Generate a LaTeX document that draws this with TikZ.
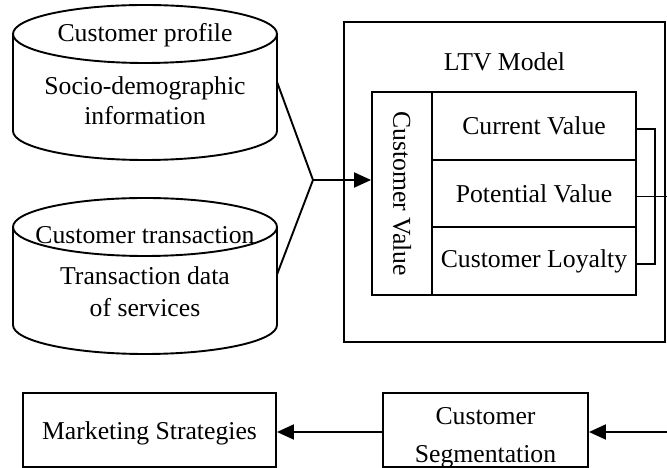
\documentclass[tikz,border=0pt]{standalone}
\usepackage{fontspec}
\setmainfont{Liberation Serif}
\usetikzlibrary{arrows.meta}
\begin{document}
\begin{tikzpicture}[x=1pt,y=1pt,
  every node/.style={font=\fontsize{25.7}{28}\selectfont, inner sep=0pt},
  ln/.style={line width=1.9pt},
  arr/.style={ln, -{Triangle[length=17pt,width=15pt]}},
  boxn/.style={draw, ln, align=center},
]
\useasboundingbox (0,0) rectangle (667,468);
% cylinder 1
\draw[ln] (13,434) -- (13,337) arc[start angle=180,end angle=360,x radius=132,y radius=29] -- (277,434);
\draw[ln] (145,434) ellipse[x radius=132,y radius=29];
\node[minimum width=264, minimum height=97] (cyl1) at (145,385.5) {};
\node (cp) at (145,433) {Customer profile};
\node[align=center] (sd) at (145,367) {Socio-demographic\\[2pt]information};
% cylinder 2
\draw[ln] (13,241) -- (13,143) arc[start angle=180,end angle=360,x radius=132,y radius=29] -- (277,241);
\draw[ln] (145,241) ellipse[x radius=132,y radius=29];
\node[minimum width=264, minimum height=98] (cyl2) at (145,194) {};
\node (ct) at (145,233) {Customer transaction};
\node[align=center] (td) at (145,176) {Transaction data\\[4pt]of services};
% LTV model
\node[draw, ln, minimum width=321, minimum height=320] (ltv) at (504.5,286) {};
\node (ltvl) at (504.5,406) {LTV Model};
\node[draw, ln, minimum width=60, minimum height=203] (cvbox) at (402,274.5) {};
\node[rotate=-90] (cvtext) at (cvbox) {Customer Value};
\node[draw, ln, minimum width=204, minimum height=67.67] (cur) at (534,342.2) {Current Value};
\node[draw, ln, minimum width=204, minimum height=67.67] (pot) at (534,274.5) {Potential Value};
\node[draw, ln, minimum width=204, minimum height=67.67] (loy) at (534,206.8) {Customer Loyalty};
% bracket
\draw[ln] ([yshift=-3]cur.east) -- ++(18,0) |- ([yshift=-3]loy.east);
\coordinate (rim) at (667,0);
\draw[ln] ([yshift=-3]pot.east) -- ([yshift=-3]pot.east -| rim);
% junction
\coordinate (j) at (313,288);
\draw[ln] (cyl1.east) -- (j) -- (cyl2.east);
\draw[arr] (j) -- (j -| cvbox.west);
% bottom
\node[boxn, minimum width=253, minimum height=74] (ms) at (149.5,38) {};
\node (mst) at (149.5,35) {Marketing Strategies};
\node[boxn, minimum width=205, minimum height=74] (seg) at (485.5,38) {};
\node[align=center] (segt) at (485.5,30) {Customer\\[10pt]Segmentation};
\coordinate (re) at (667,36);
\draw[arr] (re) -- (seg.east |- re);
\draw[arr] (seg.west |- re) -- (ms.east |- re);
\end{tikzpicture}
\end{document}
